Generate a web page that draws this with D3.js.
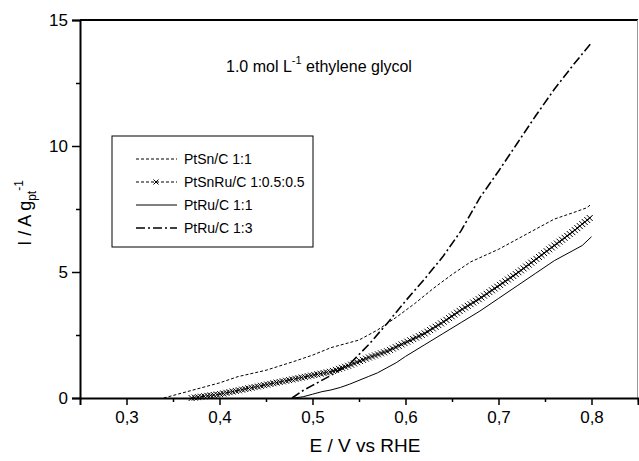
<!DOCTYPE html>
<html>
<head>
<meta charset="utf-8">
<script src="https://cdn.jsdelivr.net/npm/d3@7"></script>
<style>
  body { margin: 0; background: #fff; }
  svg { display: block; font-family: "Liberation Sans", Arial, sans-serif; }
</style>
</head>
<body>
<svg class="chart" width="639" height="461"></svg>
<script>
// values (E in V vs RHE, I in A g_pt^-1)
let ptSnE   = [0.34, 0.35, 0.37, 0.40, 0.42, 0.45, 0.48, 0.50, 0.52, 0.55, 0.57, 0.59, 0.61, 0.63, 0.65, 0.67, 0.70, 0.72, 0.74, 0.76, 0.78, 0.795, 0.80];
let ptSnI   = [0.00, 0.10, 0.30, 0.60, 0.85, 1.10, 1.45, 1.70, 2.00, 2.30, 2.70, 3.20, 3.75, 4.35, 4.90, 5.40, 5.90, 6.30, 6.70, 7.10, 7.35, 7.55, 7.70];

let ptSnRuE = [0.37, 0.38, 0.40, 0.42, 0.44, 0.46, 0.48, 0.50, 0.52, 0.54, 0.56, 0.58, 0.60, 0.62, 0.64, 0.66, 0.68, 0.70, 0.72, 0.74, 0.76, 0.78, 0.80];
let ptSnRuI = [0.00, 0.05, 0.15, 0.30, 0.45, 0.60, 0.75, 0.90, 1.05, 1.30, 1.60, 1.85, 2.20, 2.55, 3.00, 3.50, 3.95, 4.45, 4.95, 5.50, 6.05, 6.60, 7.20];

let ptRu11E = [0.48, 0.49, 0.50, 0.51, 0.52, 0.53, 0.54, 0.55, 0.56, 0.57, 0.58, 0.59, 0.60, 0.62, 0.64, 0.66, 0.68, 0.70, 0.72, 0.74, 0.76, 0.78, 0.79, 0.80];
let ptRu11I = [0.00, 0.05, 0.15, 0.25, 0.32, 0.42, 0.55, 0.70, 0.85, 1.00, 1.20, 1.40, 1.65, 2.10, 2.55, 3.00, 3.45, 3.95, 4.45, 4.95, 5.45, 5.85, 6.05, 6.40];

let ptRu13E = [0.478, 0.49, 0.50, 0.52, 0.54, 0.56, 0.58, 0.60, 0.62, 0.64, 0.66, 0.68, 0.70, 0.72, 0.74, 0.76, 0.78, 0.80];
let ptRu13I = [0.00, 0.30, 0.50, 0.90, 1.35, 2.10, 2.95, 3.85, 4.70, 5.60, 6.65, 7.95, 9.00, 10.1, 11.2, 12.25, 13.2, 14.1];

let seriesNames = ["PtSn/C 1:1", "PtSnRu/C 1:0.5:0.5", "PtRu/C 1:1", "PtRu/C 1:3"];

let xMajor = [0.3, 0.4, 0.5, 0.6, 0.7, 0.8];
let xMinor = [0.35, 0.45, 0.55, 0.65, 0.75, 0.85];
let yMajor = [0, 5, 10, 15];
let yMinor = [2.5, 7.5, 12.5];

let svg = d3.select(".chart");

let margin = { top: 20, right: 1, bottom: 63, left: 80 };
let width = 639, height = 461;

let x = d3.scaleLinear().domain([0.25, 0.85]).range([margin.left, width - margin.right]);
let y = d3.scaleLinear().domain([0, 15]).range([height - margin.bottom, margin.top]);

let styles = [
  { dash: "3,2", width: 1, marker: false },
  { dash: "3,2", width: 1, marker: true },
  { dash: null,  width: 1, marker: false },
  { dash: "9,3,2,3", width: 1.6, marker: false }
];

let series = [
  ptSnE.map((e, i) => [e, ptSnI[i]]),
  ptSnRuE.map((e, i) => [e, ptSnRuI[i]]),
  ptRu11E.map((e, i) => [e, ptRu11I[i]]),
  ptRu13E.map((e, i) => [e, ptRu13I[i]])
];

let line = d3.line().x(d => x(d[0])).y(d => y(d[1]));

let plot = svg.append("g").attr("id", "plot");

series.forEach((s, k) => {
  let path = plot.append("path")
    .datum(s)
    .attr("fill", "none")
    .attr("stroke", "#000")
    .attr("stroke-width", styles[k].width)
    .attr("stroke-dasharray", styles[k].dash)
    .attr("d", line);

  // dense "x" markers along the PtSnRu trace, like the instrument export
  if (styles[k].marker) {
    let node = path.node();
    let len = node.getTotalLength();
    let pts = d3.range(0, len, 3.2).map(l => node.getPointAtLength(l));
    plot.append("g").selectAll("path")
      .data(pts)
      .join("path")
      .attr("d", p => `M${p.x - 3},${p.y - 3}L${p.x + 3},${p.y + 3}M${p.x - 3},${p.y + 3}L${p.x + 3},${p.y - 3}`)
      .attr("stroke", "#000")
      .attr("stroke-width", 1);
  }
});

// frame: thick top, thin grey right
svg.append("line")
  .attr("x1", margin.left).attr("x2", width - margin.right)
  .attr("y1", margin.top).attr("y2", margin.top)
  .attr("stroke", "#000").attr("stroke-width", 2);
svg.append("line")
  .attr("x1", width - 1.5).attr("x2", width - 1.5)
  .attr("y1", margin.top).attr("y2", height - margin.bottom)
  .attr("stroke", "#999").attr("stroke-width", 1);

let fmt = d => d3.format(".1f")(d).replace(".", ",");

// x axis
let xGroup = svg.append("g").attr("transform", translate(0, height - margin.bottom));
xGroup.call(d3.axisBottom(x).tickValues(xMajor).tickSize(7).tickPadding(6).tickFormat(fmt));
xGroup.append("g").call(d3.axisBottom(x).tickValues(xMinor).tickSize(4).tickFormat(""))
  .select(".domain").remove();

// y axis
let yGroup = svg.append("g").attr("transform", translate(margin.left, 0));
yGroup.call(d3.axisLeft(y).tickValues(yMajor).tickSize(8).tickPadding(4).tickFormat(d3.format("d")));
yGroup.append("g").call(d3.axisLeft(y).tickValues(yMinor).tickSize(4).tickFormat(""))
  .select(".domain").remove();

svg.selectAll(".domain").attr("stroke-width", 2);
svg.selectAll(".tick line").attr("stroke-width", 1.5);
svg.selectAll(".tick text").attr("font-size", 17).attr("fill", "#000")
  .attr("font-family", "Liberation Sans, Arial, sans-serif");

// axis titles
svg.append("text")
  .attr("x", 365).attr("y", 452)
  .attr("text-anchor", "middle")
  .attr("font-size", 19)
  .text("E / V vs RHE");

let yLabel = svg.append("text")
  .attr("transform", translate(31, 213) + " rotate(-90)")
  .attr("text-anchor", "middle")
  .attr("font-size", 18);
yLabel.append("tspan").text("I / A g");
yLabel.append("tspan").attr("font-size", 12).attr("dy", 5).text("pt");
yLabel.append("tspan").attr("font-size", 12).attr("dy", -13).text("-1");

// annotation
let title = svg.append("text")
  .attr("x", 226).attr("y", 72)
  .attr("font-size", 16);
title.append("tspan").text("1.0 mol L");
title.append("tspan").attr("font-size", 11).attr("dy", -8).text("-1");
title.append("tspan").attr("dy", 8).text(" ethylene glycol");

// legend
let legend = svg.append("g").attr("transform", translate(112, 136));
legend.append("rect")
  .attr("width", 201).attr("height", 111)
  .attr("fill", "#fff").attr("stroke", "#000").attr("stroke-width", 1);

let rows = legend.selectAll(".row")
  .data(seriesNames)
  .join("g")
  .attr("class", "row")
  .attr("transform", (d, i) => translate(0, 23 + i * 23));

rows.append("line")
  .attr("x1", 24).attr("x2", 65)
  .attr("stroke", "#000")
  .attr("stroke-width", (d, i) => styles[i].width)
  .attr("stroke-dasharray", (d, i) => styles[i].dash);

rows.filter((d, i) => styles[i].marker)
  .append("path")
  .attr("d", "M41.5,-2.5L46.5,2.5M41.5,2.5L46.5,-2.5")
  .attr("stroke", "#000").attr("stroke-width", 1);

rows.append("text")
  .attr("x", 72).attr("dy", "0.35em")
  .attr("font-size", 14)
  .text(d => d);

function translate(x, y) {
  return "translate(" + x + "," + y + ")";
}
</script>
</body>
</html>
